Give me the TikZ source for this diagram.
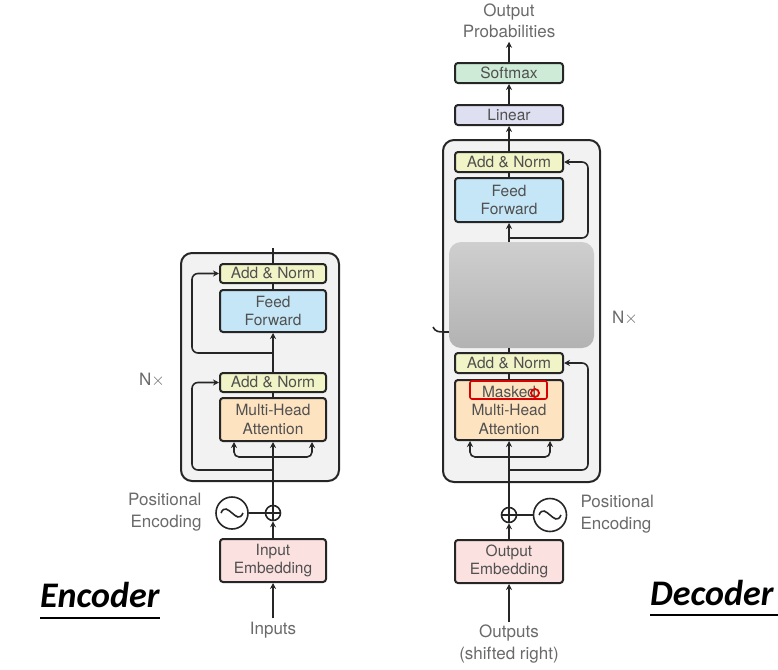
\documentclass[tikz,border=0pt]{standalone}
\usepackage{fontspec}
\setmainfont{TeX Gyre Heros}
\newfontfamily\labelfont{Carlito}
\usetikzlibrary{arrows.meta}
\definecolor{txtgray}{HTML}{505050}
\definecolor{lblgray}{HTML}{6A6A6A}
\definecolor{addnormc}{HTML}{F1F4C6}
\definecolor{ffc}{HTML}{C5E6F6}
\definecolor{attc}{HTML}{FDE3C0}
\definecolor{embc}{HTML}{FBE2E0}
\definecolor{linc}{HTML}{DEDFF1}
\definecolor{smaxc}{HTML}{CDEBD6}
\definecolor{stackc}{HTML}{F2F2F2}
\begin{document}
\begin{tikzpicture}[x=1pt,y=-1pt,
  every node/.style={font=\fontsize{15.5}{18.5}\selectfont,text=txtgray},
  layer/.style={draw=black!85,line width=2pt,rounded corners=3pt,align=center,inner sep=0pt,minimum width=106pt},
  stack/.style={draw=black!85,line width=2pt,rounded corners=11pt,fill=stackc,inner sep=0pt},
  conn/.style={line width=1.6pt,black!85},
  arr/.style={conn,-{Stealth[length=6pt,width=6pt]}},
  lbl/.style={text=lblgray,align=center,font=\fontsize{17}{21.5}\selectfont},
  title/.style={font=\labelfont\bfseries\itshape\fontsize{36}{38}\selectfont,text=black,inner sep=0pt,anchor=base west}]
\useasboundingbox (0,0) rectangle (778,669);
% Encoder
\node[stack,minimum width=158pt,minimum height=228pt] (encbox) at (260,367) {};
\node[layer,fill=addnormc,minimum height=19pt] (encAN2) at (273,273.5) {Add \& Norm};
\node[layer,fill=ffc,minimum height=42pt] (encFF) at (273,311) {Feed\\Forward};
\node[layer,fill=addnormc,minimum height=19pt] (encAN1) at (273,382.5) {Add \& Norm};
\node[layer,fill=attc,minimum height=43pt] (encMHA) at (273,419.5) {Multi-Head\\Attention};
\node[layer,fill=embc,minimum height=43pt] (encEmb) at (273,560.5) {Input\\Embedding};
\node[draw=black!85,line width=1.6pt,circle,minimum size=15pt,inner sep=0pt] (encPlus) at (273,513) {};
\node[draw=black!85,line width=1.6pt,circle,minimum size=32pt,inner sep=0pt] (encSin) at (232,513) {};
\node[lbl] (inputs) at (273,630) {Inputs};
\node[lbl,anchor=east,align=right] (encPE) at (205,512) {Positional\\Encoding};
\node[lbl] (encN) at (152,380) {N$\times$};
\node[title] (encTitle) at (40,607) {Encoder};
\coordinate (encFork) at (273,457);
\coordinate (encRes1) at (273,470);
\coordinate (encRes2) at (273,353);
\coordinate (encOut) at (273,248);
\draw[conn] (encPlus.north) -- (encPlus.south) (encPlus.west) -- (encPlus.east);
\draw[conn] ([xshift=-11pt]encSin.center) .. controls ([xshift=-5pt,yshift=14pt]encSin.center) and ([xshift=5pt,yshift=-14pt]encSin.center) .. ([xshift=11pt]encSin.center);
\draw[arr] (inputs.north) -- (encEmb.south);
\draw[arr] (encEmb.north) -- (encPlus.south);
\draw[conn] (encSin.east) -- (encPlus.west);
\draw[arr] (encPlus.north) -- (encMHA.south);
\draw[arr,rounded corners=5pt] (encFork) -| ([xshift=-39pt]encMHA.south);
\draw[arr,rounded corners=5pt] (encFork) -| ([xshift=39pt]encMHA.south);
\draw[arr,rounded corners=6pt] (encRes1) -| ([xshift=-27pt]encAN1.west) -- (encAN1.west);
\draw[conn] (encMHA.north) -- (encAN1.south);
\draw[arr] (encAN1.north) -- (encFF.south);
\draw[arr,rounded corners=6pt] (encRes2) -| ([xshift=-27pt]encAN2.west) -- (encAN2.west);
\draw[conn] (encFF.north) -- (encAN2.south);
\draw[conn] (encAN2.north) -- (encOut);
\draw[line width=1.2pt] ([yshift=-11pt]encTitle.base west) -- ([yshift=-11pt]encTitle.base east);
% Decoder
\node[stack,minimum width=157pt,minimum height=342pt] (decbox) at (521.5,311) {};
\coordinate (crossIn) at (433,327);
\coordinate (crossEnd) at (452,332);
\draw[conn] (crossIn) .. controls (436,332) .. (crossEnd);
\node[rounded corners=12pt,minimum width=145pt,minimum height=106pt,inner sep=0pt,top color=black!19,bottom color=black!30] (hidden) at (521.5,295) {};
\node[layer,fill=smaxc,minimum height=20pt,minimum width=108pt] (softmax) at (509,73) {Softmax};
\node[layer,fill=linc,minimum height=20pt,minimum width=108pt] (linear) at (509,115) {Linear};
\node[layer,fill=addnormc,minimum height=20pt,minimum width=108pt] (decAN2) at (509,162) {Add \& Norm};
\node[layer,fill=ffc,minimum height=44pt,minimum width=108pt] (decFF) at (509,200) {Feed\\Forward};
\node[layer,fill=addnormc,minimum height=20pt,minimum width=108pt] (decAN1) at (509,363) {Add \& Norm};
\node[layer,fill=attc,minimum height=60pt,minimum width=108pt] (decMHA) at (509,410) {Masked\\Multi-Head\\Attention};
\node[draw=red!85!black,line width=1.6pt,rounded corners=2pt,minimum width=77pt,minimum height=18pt,inner sep=0pt] (maskMark) at (508.5,390) {};
\node[draw=red!85!black,line width=1.8pt,circle,minimum size=8pt,inner sep=0pt] (cursor) at (535,393) {};
\node[layer,fill=embc,minimum height=43pt,minimum width=108pt] (decEmb) at (509,561.5) {Output\\Embedding};
\node[draw=black!85,line width=1.6pt,circle,minimum size=15pt,inner sep=0pt] (decPlus) at (509,515) {};
\node[draw=black!85,line width=1.6pt,circle,minimum size=33pt,inner sep=0pt] (decSin) at (550,515) {};
\node[lbl] (outputs) at (509,644) {Outputs\\(shifted right)};
\node[lbl,anchor=west,align=left] (decPE) at (577,514) {Positional\\Encoding};
\node[lbl] (outprob) at (509,21) {Output\\Probabilities};
\node[lbl] (decN) at (625,318) {N$\times$};
\node[title] (decTitle) at (650,605) {Decoder};
\coordinate (decFork) at (509,457);
\coordinate (decRes1) at (509,470);
\coordinate (decRes2) at (509,238);
\draw[conn] (decPlus.north) -- (decPlus.south) (decPlus.west) -- (decPlus.east);
\draw[conn] ([xshift=-11pt]decSin.center) .. controls ([xshift=-5pt,yshift=14pt]decSin.center) and ([xshift=5pt,yshift=-14pt]decSin.center) .. ([xshift=11pt]decSin.center);
\draw[arr] (outputs.north) -- (decEmb.south);
\draw[arr] (decEmb.north) -- (decPlus.south);
\draw[conn] (decSin.west) -- (decPlus.east);
\draw[arr] (decPlus.north) -- (decMHA.south);
\draw[arr,rounded corners=5pt] (decFork) -| ([xshift=-39pt]decMHA.south);
\draw[arr,rounded corners=5pt] (decFork) -| ([xshift=41pt]decMHA.south);
\draw[arr,rounded corners=6pt] (decRes1) -| ([xshift=24pt]decAN1.east) -- (decAN1.east);
\draw[conn] (decMHA.north) -- (decAN1.south);
\draw[conn] (decAN1.north) -- (decAN1.north |- hidden.south);
\draw[arr] (decFF.south |- hidden.north) -- (decFF.south);
\draw[arr,rounded corners=6pt] (decRes2) -| ([xshift=24pt]decAN2.east) -- (decAN2.east);
\draw[conn] (decFF.north) -- (decAN2.south);
\draw[arr] (decAN2.north) -- (linear.south);
\draw[arr] (linear.north) -- (softmax.south);
\draw[arr] (softmax.north) -- (outprob.south);
\draw[line width=1.2pt] ([yshift=-10pt]decTitle.base west) -- ([yshift=-10pt]decTitle.base west -| 778,0);
\end{tikzpicture}
\end{document}
